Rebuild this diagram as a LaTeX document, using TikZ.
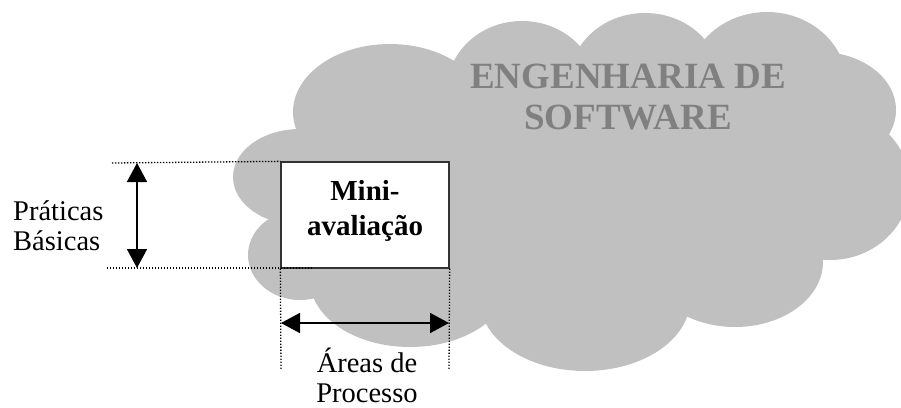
\documentclass[tikz,border=0pt]{standalone}
\usepackage{fontspec}
\setmainfont{Liberation Serif}
\usetikzlibrary{arrows.meta}
\definecolor{cloudgray}{HTML}{C0C0C0}
\definecolor{titlegray}{HTML}{808080}
\definecolor{boxline}{HTML}{333333}

\begin{document}
\begin{tikzpicture}[x=1pt, y=-1pt, >={Triangle[length=19pt,width=20pt]},
    guide/.style={line width=1.3pt, dash pattern=on 1.3pt off 1.7pt},
    span/.style={<->, line width=1.6pt},
    lbl/.style={inner sep=0pt, font=\fontsize{28.5}{30}\selectfont}]
    \clip (0,0) rectangle (901,407);

    % Cloud
    \fill[cloudgray] (390,112) -- (522,90) -- (645,80) -- (767,85) -- (820,110)
        -- (830,185) -- (735,262) -- (585,300) -- (410,280) -- (300,255) -- (300,177) -- cycle;
    \foreach \cx/\cy/\rx/\ry in {390/112/97/68, 522/90/75/69, 645/80/75/67, 767/85/80/73,
        820/110/76/58, 830/185/80/75, 735/262/88/65, 585/300/105/71, 410/280/100/67,
        300/255/52/45, 300/177/67/48}
        \fill[cloudgray] (\cx,\cy) ellipse [x radius=\rx pt, y radius=\ry pt];
    % base anchor = last line
    \node[inner sep=0pt, align=center, text=titlegray, font=\bfseries\fontsize{37}{41}\selectfont,
        anchor=base] (title) at (628,129) {ENGENHARIA DE\\SOFTWARE};

    % Box
    \node[draw=boxline, line width=1.3pt, fill=white, minimum width=168pt, minimum height=106pt,
        inner sep=0pt] (mini) at (365,215) {};
    \node[inner sep=0pt, align=center, font=\bfseries\fontsize{29}{35}\selectfont,
        anchor=base] (minitext) at (365,235) {Mini-\\avalia\c{c}\~ao};

    % Guides
    \coordinate (pbtop) at (112,163);
    \coordinate (pbbot) at (107,268);
    \coordinate (pbbotend) at (313,268);
    \coordinate (apleft) at (281,370);
    \coordinate (apright) at (449,370);
    \draw[guide] (pbtop) -- (mini.north west);
    \draw[guide] (pbbot) -- (pbbotend);
    \draw[guide] (mini.south west) -- (apleft);
    \draw[guide] (mini.south east) -- (apright);

    % Dimension arrows
    \coordinate (vtop) at (137,163);
    \coordinate (vbot) at (137,268);
    \coordinate (hleft) at (281,323);
    \coordinate (hright) at (449,323);
    \draw[span] (vtop) -- (vbot);
    \draw[span] (hleft) -- (hright);

    % Labels
    \node[lbl, align=left, anchor=base west] (praticas) at (13,250) {Pr\'aticas\\B\'asicas};
    \node[lbl, align=center, anchor=base] (areas) at (367,402) {\'Areas de\\Processo};
\end{tikzpicture}
\end{document}
